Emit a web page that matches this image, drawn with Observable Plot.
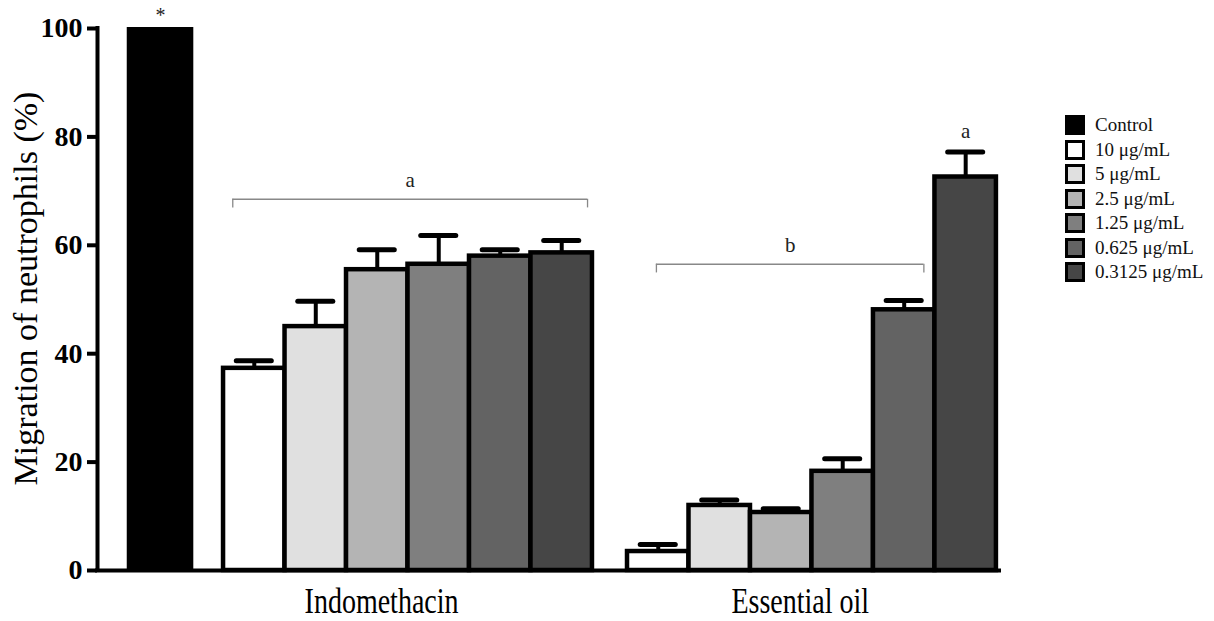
<!DOCTYPE html>
<html>
<head>
<meta charset="utf-8">
<script src="https://cdn.jsdelivr.net/npm/d3@7"></script>
<script src="https://cdn.jsdelivr.net/npm/@observablehq/plot@0.6"></script>
<style>
  body { margin: 0; background: #fff; }
  #wrap { position: relative; width: 1214px; height: 621px; font-family: "Liberation Serif", "Times New Roman", serif; }
  #legend { position: absolute; left: 1065px; top: 113px; }
  .item { display: flex; align-items: center; height: 24.5px; font-size: 19px; color: #111; white-space: nowrap; }
  .sw { width: 14px; height: 14px; border: 3.5px solid #000; margin-right: 10px; flex: none; }
</style>
</head>
<body>
<div id="wrap">
  <div id="chart"></div>
  <div id="legend"></div>
</div>
<script>
// Neutrophil migration (% of control), mean and SEM per concentration
const groups = ["Indomethacin", "Essential oil"];
const doses = ["10 μg/mL", "5 μg/mL", "2.5 μg/mL", "1.25 μg/mL", "0.625 μg/mL", "0.3125 μg/mL"];
const doseFills = ["#ffffff", "#e0e0e0", "#b4b4b4", "#7f7f7f", "#636363", "#464646"];
const controlLabel = "Control";
const controlValue = 100;
const indomethacinMean = [37.3, 45.0, 55.5, 56.5, 58.0, 58.6];
const indomethacinSem = [1.4, 4.7, 3.7, 5.3, 1.2, 2.3];
const oilMean = [3.5, 12.0, 10.7, 18.3, 48.1, 72.6];
const oilSem = [1.3, 1.0, 0.7, 2.3, 1.7, 4.6];
const yTicks = [0, 20, 40, 60, 80, 100];
const yLabel = "Migration of neutrophils (%)";

// Layout along x, measured in bar widths
const controlStart = 0.5, controlWidth = 1.05;
const groupStart = {"Indomethacin": 2.05, "Essential oil": 8.62};
const labelShift = {"Indomethacin": 2.57, "Essential oil": 2.81};
const xEnd = 14.67;

const rows = [];
const means = {"Indomethacin": indomethacinMean, "Essential oil": oilMean};
const sems = {"Indomethacin": indomethacinSem, "Essential oil": oilSem};
for (const g of groups) {
  doses.forEach((dose, i) => {
    rows.push({
      group: g, dose, index: i,
      x1: groupStart[g] + i, x2: groupStart[g] + i + 1,
      mean: means[g][i], sem: sems[g][i], fill: doseFills[i]
    });
  });
}
const control = [{x1: controlStart, x2: controlStart + controlWidth, mean: controlValue, fill: "#000"}];
const errRows = rows.map(d => ({...d, xc: (d.x1 + d.x2) / 2, top: d.mean + d.sem}));

// Significance brackets spanning bars of one group (fractional bar offsets)
const brackets = [
  {label: "a", group: "Indomethacin", from: 0.15, to: 5.92, bars: [0, 5]},
  {label: "b", group: "Essential oil", from: 0.47, to: 4.82, bars: [0, 4]}
].map(b => {
  const spanned = errRows.filter(d => d.group === b.group && d.index >= b.bars[0] && d.index <= b.bars[1]);
  const level = d3.max(spanned, d => d.top) + 6.7;
  return {...b, xa: groupStart[b.group] + b.from, xb: groupStart[b.group] + b.to, level,
          xm: groupStart[b.group] + (b.from + b.to) / 2};
});
const bracketLegs = brackets.flatMap(b => [{x: b.xa, level: b.level}, {x: b.xb, level: b.level}]);

// Letters over single bars
const lastOil = errRows[errRows.length - 1];
const starMark = [{label: "*", x: controlStart + controlWidth / 2, y: controlValue}];
const oilLetter = [{label: "a", x: lastOil.xc, y: lastOil.top}];

const groupLabels = groups.map(g => ({name: g, x: groupStart[g] + labelShift[g]}));

const capHalf = 0.285;

const chart = Plot.plot({
  width: 1214,
  height: 621,
  marginTop: 28,
  marginBottom: 51,
  marginLeft: 97,
  marginRight: 215,
  style: {fontFamily: "Liberation Serif, Times New Roman, serif", background: "#fff", overflow: "visible"},
  x: {domain: [0, xEnd], axis: null},
  y: {domain: [0, 100], axis: null},
  color: {type: "identity"},
  marks: [
    // error bars (upper only)
    Plot.ruleX(errRows, {x: "xc", y1: "mean", y2: "top", stroke: "#000", strokeWidth: 4}),
    Plot.ruleY(errRows, {y: "top", x1: d => d.xc - capHalf, x2: d => d.xc + capHalf, stroke: "#000", strokeWidth: 5, strokeLinecap: "round"}),
    // bars
    Plot.rectY(control, {x1: "x1", x2: "x2", y1: 0, y2: "mean", fill: "fill", stroke: "#000", strokeWidth: 2}),
    Plot.rectY(rows, {x1: "x1", x2: "x2", y1: 0, y2: "mean", fill: "fill", stroke: "#000", strokeWidth: 4.5}),
    // axes
    Plot.ruleX([0], {y1: 0, y2: 100, stroke: "#000", strokeWidth: 4, strokeLinecap: "square"}),
    Plot.ruleY([0], {x1: 0, x2: xEnd, stroke: "#000", strokeWidth: 4, strokeLinecap: "square"}),
    Plot.axisY({ticks: yTicks, tickSize: 10, tickPadding: 5, strokeWidth: 4, fontSize: 28, fontWeight: "bold", fill: "#000", label: null}),
    Plot.text([yLabel], {frameAnchor: "left", textAnchor: "middle", rotate: -90, dx: -71, dy: -11, fontSize: 34, fill: "#000"}),
    // group labels
    Plot.text(groupLabels, {x: "x", y: 0, text: "name", dy: 31, fontSize: 28, fill: "#000"}),
    // brackets
    Plot.ruleY(brackets, {y: "level", x1: "xa", x2: "xb", stroke: "#888", strokeWidth: 1.3}),
    Plot.ruleX(bracketLegs, {x: "x", y1: "level", y2: d => d.level - 1.6, stroke: "#888", strokeWidth: 1.3}),
    Plot.text(brackets, {x: "xm", y: "level", text: "label", dy: -19, fontSize: 21, fill: "#222"}),
    Plot.text(starMark, {x: "x", y: "y", text: "label", dy: -13, fontSize: 20, fill: "#222"}),
    Plot.text(oilLetter, {x: "x", y: "y", text: "label", dy: -21, fontSize: 21, fill: "#222"})
  ]
});
document.getElementById("chart").append(chart);

// the group captions are set in a tall, narrow face
d3.select(chart).selectAll("text")
  .filter(function() { return groups.includes(this.textContent); })
  .attr("transform", function() { return `${this.getAttribute("transform") || ""} scale(1,1.25)`; });

const legend = d3.select("#legend");
const legendItems = [{label: controlLabel, fill: "#000"}, ...doses.map((d, i) => ({label: d, fill: doseFills[i]}))];
for (const it of legendItems) {
  const row = legend.append("div").attr("class", "item");
  row.append("div").attr("class", "sw").style("background", it.fill);
  row.append("span").text(it.label);
}
</script>
</body>
</html>
